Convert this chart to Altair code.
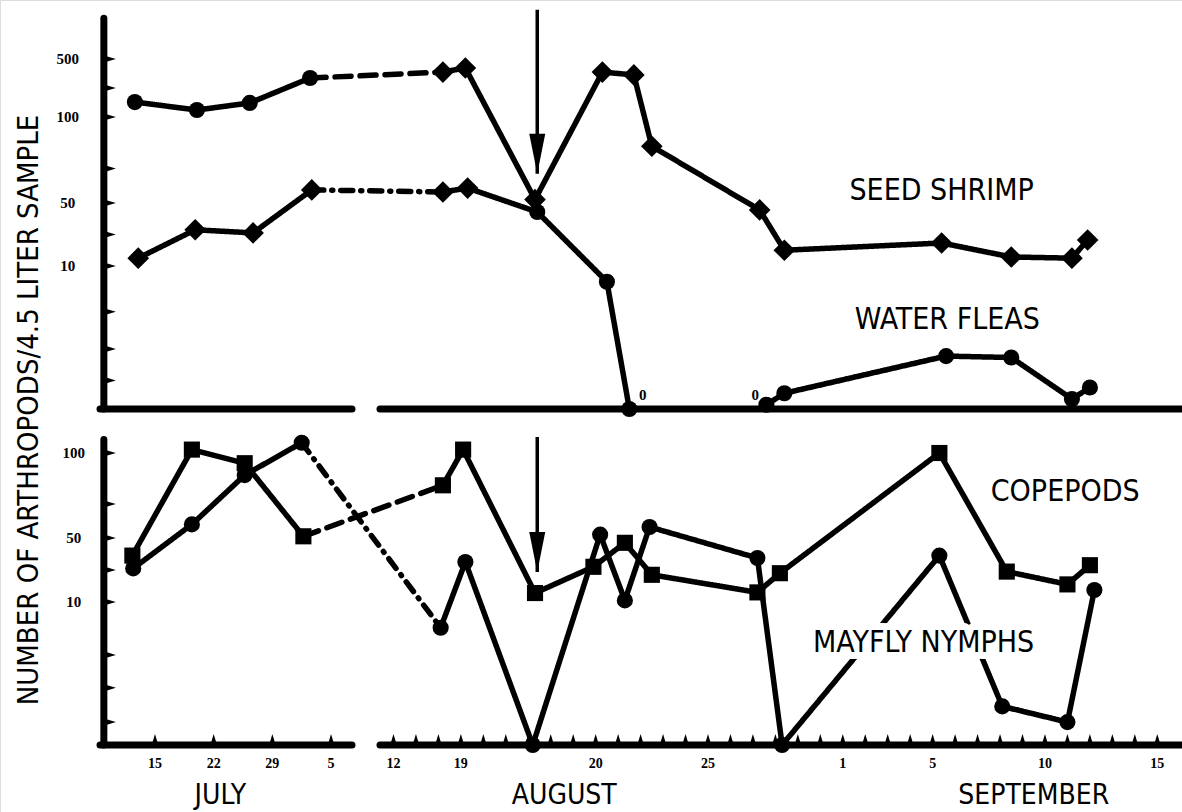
import altair as alt
import pandas as pd

# ---------------- data ----------------
# day = day count from 30 June (15 = July 15, 36 = Aug 5, 63 = Sep 1)
SHRIMP_DAY = [12.6, 20.0, 26.3, 33.5, 45.2, 46.2, 49.3, 52.3, 53.7, 54.5, 59.3, 60.4, 67.4, 70.5, 73.2, 73.9]
SHRIMP_N = [203, 148, 197, 369, 410, 438, 52, 410, 390, 83, 45.6, 20, 24.6, 15.7, 15, 26.5]

FLEA_DAY = [13.0, 19.8, 26.7, 33.7, 45.2, 46.3, 49.4, 52.5, 53.5, 59.6, 60.4, 67.6, 70.5, 73.2, 74.0]
FLEA_N = [15, 33, 31, 57.6, 56.4, 58.7, 44.3, 8.9, 0, 0.3, 1.1, 3.7, 3.6, 0.7, 1.5]
FLEA_NO_LINE_AFTER = [53.5]

COPE_DAY = [12.3, 19.4, 25.7, 32.7, 45.2, 46.1, 49.3, 51.9, 53.3, 54.5, 59.2, 60.2, 67.3, 70.3, 73.0, 74.0]
COPE_N = [39, 102, 94, 51, 81, 102, 15.6, 32, 47, 27, 16, 28, 100, 29, 21, 33]

MAY_DAY = [12.4, 19.4, 25.7, 32.5, 45.1, 46.2, 49.2, 52.2, 53.3, 54.4, 59.2, 60.3, 67.3, 70.1, 73.0, 74.2]
MAY_N = [31, 58, 87, 106, 8.2, 35, 0, 52, 11, 56.5, 37.5, 0, 39, 2.7, 1.6, 17.5]

ZERO_NOTE_DAY = [54.1, 59.1]
ZERO_NOTE_N = [1.0, 1.0]

TREATMENT_DAY = 49.4
TOP_ARROW_N = [838, 67]
BOT_ARROW_N = [109.4, 28.75]

TOP_YTICKS = [2, 4.2, 6.8, 10, 30, 50, 70, 100, 300, 500]
TOP_YLABELS = [500, 100, 50, 10]
BOT_YTICKS = [1.6, 4, 6.3, 10, 30, 50, 70, 100]
BOT_YLABELS = [100, 50, 10]

XTICK_DAYS = [15, 22, 29, 36] + list(range(43, 78))
XLABEL_DAYS = [15, 22, 29, 36, 43, 46, 52, 57, 63, 67, 72, 77]
XLABEL_TEXT = ["15", "22", "29", "5", "12", "19", "20", "25", "1", "5", "10", "15"]
MONTHS = ["JULY", "AUGUST", "SEPTEMBER"]
MONTH_DAY = [22.8, 50.6, 71.5]

TOP_NAMES = ["SEED SHRIMP", "WATER FLEAS"]
TOP_NAME_DAY = [67.4, 67.65]
TOP_NAME_N = [57, 6.2]
BOT_NAMES = ["COPEPODS", "MAYFLY NYMPHS"]
BOT_NAME_DAY = [72.9, 66.6]
BOT_NAME_N = [77, 7.1]

Y_TITLE = "NUMBER OF ARTHROPODS/4.5 LITER SAMPLE"

# ---------------- layout (scales) ----------------
X_DOMAIN = [8.44, 38.5, 42.4, 78.1]   # broken time axis
X_RANGE = [100, 352, 380, 1182]
GAP = (38.5, 42.4)
Y_AXIS_DAY = 8.9
TOP_DOMAIN = [0, 10, 50, 100, 500, 850]
TOP_RANGE = [409, 266, 203, 117, 59, 8]
TOP_AXIS_MAX = 780
BOT_DOMAIN = [0, 10, 50, 100, 112]
BOT_RANGE = [745, 602, 538, 453, 432.6]
BOT_AXIS_MAX = 108

LABEL_FONT = "'Liberation Sans Narrow', 'DejaVu Sans Condensed', 'Roboto', sans-serif"
TICK_FONT = "'Liberation Serif', 'DejaVu Serif', serif"

XS = alt.Scale(domain=X_DOMAIN, range=X_RANGE, nice=False, zero=False)
TY = alt.Scale(domain=TOP_DOMAIN, range=TOP_RANGE, nice=False, zero=False)
BY = alt.Scale(domain=BOT_DOMAIN, range=BOT_RANGE, nice=False, zero=False)


def xq(field="day"):
    return alt.X(f"{field}:Q", scale=XS, axis=None)


def yq(scale, field="n"):
    return alt.Y(f"{field}:Q", scale=scale, axis=None)


def segments(name, days, vals, bridge_style, no_line_after=()):
    rows = []
    for i in range(len(days) - 1):
        d0, d1 = days[i], days[i + 1]
        if d0 in no_line_after:
            continue
        style = bridge_style if (d0 < GAP[0] and d1 > GAP[1]) else "solid"
        seg = f"{name}-{i}"
        rows.append(dict(series=name, seg=seg, style=style, day=d0, n=vals[i], k=0))
        rows.append(dict(series=name, seg=seg, style=style, day=d1, n=vals[i + 1], k=1))
    return rows


def points(name, days, vals, marker):
    return [dict(series=name, day=d, n=v, mk=marker(d)) for d, v in zip(days, vals)]


top_lines = pd.DataFrame(
    segments("shrimp", SHRIMP_DAY, SHRIMP_N, "dash")
    + segments("fleas", FLEA_DAY, FLEA_N, "dashdot", FLEA_NO_LINE_AFTER)
)
bot_lines = pd.DataFrame(
    segments("cope", COPE_DAY, COPE_N, "dash") + segments("may", MAY_DAY, MAY_N, "dashdot")
)
top_pts = pd.DataFrame(
    points("shrimp", SHRIMP_DAY, SHRIMP_N, lambda d: "circle" if d < GAP[0] else "diamond")
    + points("fleas", FLEA_DAY, FLEA_N, lambda d: "diamond" if d < 47 else "circle")
)
bot_pts = pd.DataFrame(
    points("cope", COPE_DAY, COPE_N, lambda d: "square")
    + points("may", MAY_DAY, MAY_N, lambda d: "circle")
)

MARKERS = ["circle", "diamond", "square"]
DASH = alt.StrokeDash(
    "style:N",
    scale=alt.Scale(domain=["solid", "dash", "dashdot"], range=[[1, 0], [16, 9], [12, 8, 1, 8]]),
    legend=None,
)
SHAPE = alt.Shape("mk:N", scale=alt.Scale(domain=MARKERS, range=MARKERS), legend=None)
SIZE = alt.condition("datum.mk === 'diamond'", alt.value(470), alt.value(260))


def line_layer(df, ys):
    return alt.Chart(df).mark_line(
        color="black", strokeWidth=5.5, strokeCap="round", strokeJoin="round"
    ).encode(x=xq(), y=yq(ys), detail="seg:N", order="k:Q", strokeDash=DASH)


def point_layer(df, ys):
    return alt.Chart(df).mark_point(filled=True, color="black", opacity=1).encode(
        x=xq(), y=yq(ys), shape=SHAPE, size=SIZE
    )


def axis_layers(ys, axis_max):
    h = pd.DataFrame({"d0": [X_DOMAIN[0], GAP[1]], "d1": [GAP[0], X_DOMAIN[-1]], "n": [0, 0]})
    v = pd.DataFrame({"d": [Y_AXIS_DAY], "n0": [0], "n1": [axis_max]})
    hl = alt.Chart(h).mark_rule(color="black", strokeWidth=7, strokeCap="round").encode(
        x=xq("d0"), x2="d1:Q", y=yq(ys)
    )
    vl = alt.Chart(v).mark_rule(color="black", strokeWidth=7, strokeCap="round").encode(
        x=xq("d"), y=yq(ys, "n0"), y2="n1:Q"
    )
    return [hl, vl]


def ytick_layers(ys, ticks, labels, dx):
    t = pd.DataFrame({"d": [Y_AXIS_DAY] * len(ticks), "n": ticks})
    tl = alt.Chart(t).mark_point(
        shape="M0,-0.3L1,0L0,0.3Z", filled=True, color="black", opacity=1, size=576
    ).encode(x=xq("d"), y=yq(ys))
    lab = pd.DataFrame({"d": [Y_AXIS_DAY] * len(labels), "n": labels, "t": [str(v) for v in labels]})
    ll = alt.Chart(lab).mark_text(
        font=TICK_FONT, fontWeight="bold", fontSize=15, align="center", baseline="middle", dx=dx
    ).encode(x=xq("d"), y=yq(ys), text="t:N")
    return [tl, ll]


def name_layers(names, days, vals, ys):
    df = pd.DataFrame({"t": names, "day": days, "n": vals})
    halo = alt.Chart(df).mark_text(
        font=LABEL_FONT, fontSize=30, align="center", baseline="middle",
        stroke="white", strokeWidth=14, fill="white", strokeJoin="round",
    ).encode(x=xq(), y=yq(ys), text="t:N")
    txt = alt.Chart(df).mark_text(
        font=LABEL_FONT, fontSize=30, align="center", baseline="middle", color="black"
    ).encode(x=xq(), y=yq(ys), text="t:N")
    return [halo, txt]


def arrow_layers(ys, span):
    stem = pd.DataFrame({"d": [TREATMENT_DAY], "n0": [span[0]], "n1": [span[1]]})
    tip = pd.DataFrame({"d": [TREATMENT_DAY], "n": [span[1]]})
    s = alt.Chart(stem).mark_rule(color="black", strokeWidth=3.5).encode(
        x=xq("d"), y=yq(ys, "n0"), y2="n1:Q"
    )
    h = alt.Chart(tip).mark_point(
        shape="M-0.2,-1L0.2,-1L0,0Z", filled=True, color="black", opacity=1, size=6400
    ).encode(x=xq("d"), y=yq(ys))
    return [s, h]


layers = []
# top panel
layers += axis_layers(TY, TOP_AXIS_MAX)
layers += ytick_layers(TY, TOP_YTICKS, TOP_YLABELS, -36)
layers += [line_layer(top_lines, TY), point_layer(top_pts, TY)]
layers += arrow_layers(TY, TOP_ARROW_N)
zero_df = pd.DataFrame({"day": ZERO_NOTE_DAY, "n": ZERO_NOTE_N, "t": ["0", "0"]})
layers.append(
    alt.Chart(zero_df).mark_text(font=TICK_FONT, fontSize=15, fontWeight="bold", baseline="middle")
    .encode(x=xq(), y=yq(TY), text="t:N")
)
layers += name_layers(TOP_NAMES, TOP_NAME_DAY, TOP_NAME_N, TY)

# bottom panel
layers += axis_layers(BY, BOT_AXIS_MAX)
layers += ytick_layers(BY, BOT_YTICKS, BOT_YLABELS, -30)
xt = pd.DataFrame({"d": XTICK_DAYS, "n": [0] * len(XTICK_DAYS)})
layers.append(
    alt.Chart(xt).mark_point(
        shape="M-0.3,0L0,-1L0.3,0Z", filled=True, color="black", opacity=1, size=484
    ).encode(x=xq("d"), y=yq(BY))
)
xl = pd.DataFrame({"d": XLABEL_DAYS, "n": [0] * len(XLABEL_DAYS), "t": XLABEL_TEXT})
layers.append(
    alt.Chart(xl).mark_text(
        font=TICK_FONT, fontWeight="bold", fontSize=14, align="center", baseline="middle", dy=19
    ).encode(x=xq("d"), y=yq(BY), text="t:N")
)
ml = pd.DataFrame({"d": MONTH_DAY, "n": [0] * 3, "t": MONTHS})
layers.append(
    alt.Chart(ml).mark_text(
        font=LABEL_FONT, fontSize=28, align="center", baseline="middle", dy=51
    ).encode(x=xq("d"), y=yq(BY), text="t:N")
)
layers += [line_layer(bot_lines, BY), point_layer(bot_pts, BY)]
layers += arrow_layers(BY, BOT_ARROW_N)
layers += name_layers(BOT_NAMES, BOT_NAME_DAY, BOT_NAME_N, BY)

# shared y title
layers.append(
    alt.Chart(pd.DataFrame({"t": [Y_TITLE]})).mark_text(
        font=LABEL_FONT, fontSize=29, angle=270, align="center", baseline="middle"
    ).encode(x=alt.value(29), y=alt.value(410), text="t:N")
)

chart = (
    alt.layer(*layers)
    .resolve_scale(y="independent")
    .properties(width=1182, height=812, autosize=alt.AutoSizeParams(type="none"), padding=0)
    .configure_view(stroke=None)
    .configure(background="white")
)

chart.save("out.html", embed_options={"renderer": "svg", "actions": False})
